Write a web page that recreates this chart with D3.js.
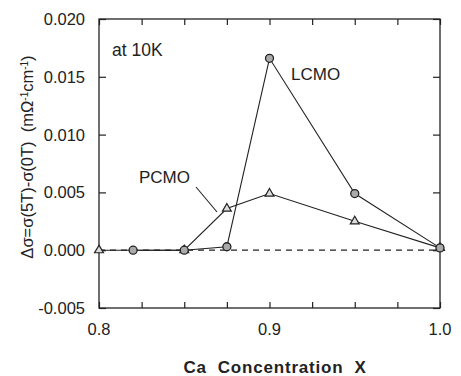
<!DOCTYPE html>
<html>
<head>
<meta charset="utf-8">
<script src="https://cdn.jsdelivr.net/npm/d3@7"></script>
<style>
  body { margin: 0; background: #fff; }
  text { font-family: Arial, "Liberation Sans", sans-serif; fill: #222; }
</style>
</head>
<body>
<div class="canvas"></div>
<script>
// data
const lcmoX = [0.82, 0.85, 0.875, 0.9, 0.95, 1.0]
const lcmoY = [0.0, 0.0, 0.0003, 0.0166, 0.0049, 0.0002]
const pcmoX = [0.8, 0.85, 0.875, 0.9, 0.95, 1.0]
const pcmoY = [0.0, 0.0, 0.0036, 0.0049, 0.0025, 0.0002]
const xTicks = [0.8, 0.9, 1.0]
const yTicks = [-0.005, 0.0, 0.005, 0.01, 0.015, 0.02]

const dims = { width: 461, height: 376 }
const margin = { top: 19, right: 21, bottom: 68, left: 99 }
const w = dims.width - margin.left - margin.right
const h = dims.height - margin.top - margin.bottom

const svg = d3.select('.canvas')
  .append('svg')
  .attr('width', dims.width)
  .attr('height', dims.height)

const graph = svg.append('g')
  .attr('transform', `translate(${margin.left}, ${margin.top})`)

const x = d3.scaleLinear().domain([0.8, 1.0]).range([0, w])
const y = d3.scaleLinear().domain([-0.005, 0.02]).range([h, 0])

const ink = '#222'

// frame
graph.append('rect')
  .attr('width', w).attr('height', h)
  .attr('fill', 'none').attr('stroke', ink).attr('stroke-width', 1.3)

// inward ticks on all four sides
const minorX = d3.range(0.8, 1.0001, 0.025)
const addAxis = (axis, transform) => {
  const g = graph.append('g').attr('transform', transform).call(axis)
  g.select('.domain').remove()
  g.selectAll('line').attr('stroke', ink).attr('stroke-width', 1.2)
  return g
}
addAxis(d3.axisBottom(x).tickValues(minorX).tickSize(-6).tickFormat(''), `translate(0, ${h})`)
addAxis(d3.axisTop(x).tickValues(minorX).tickSize(-6).tickFormat(''), 'translate(0, 0)')
addAxis(d3.axisRight(y).tickValues(yTicks).tickSize(-7).tickFormat(''), `translate(${w}, 0)`)
addAxis(d3.axisLeft(y).tickValues(yTicks).tickSize(-7).tickFormat(''), 'translate(0, 0)')

// tick labels (plain hyphen for the minus sign, as in the scan)
const fmtY = d => d3.format('.3f')(d).replace('−', '-')

graph.selectAll('.ylab')
  .data(yTicks)
  .enter().append('text')
    .attr('x', -14)
    .attr('y', d => y(d) + 6)
    .attr('text-anchor', 'end')
    .attr('font-size', 16.5)
    .text(fmtY)

graph.selectAll('.xlab')
  .data(xTicks)
  .enter().append('text')
    .attr('x', d => x(d))
    .attr('y', h + 27)
    .attr('text-anchor', 'middle')
    .attr('font-size', 16.5)
    .text(d3.format('.1f'))

// zero reference line
graph.append('line')
  .attr('x1', x(0.8)).attr('x2', x(1.0))
  .attr('y1', y(0)).attr('y2', y(0))
  .attr('stroke', ink).attr('stroke-width', 1.2)
  .attr('stroke-dasharray', '6,5')

const line = d3.line().x(d => x(d[0])).y(d => y(d[1]))
const lcmo = d3.zip(lcmoX, lcmoY)
const pcmo = d3.zip(pcmoX, pcmoY)

graph.append('path').attr('d', line(pcmo))
  .attr('fill', 'none').attr('stroke', ink).attr('stroke-width', 1.1)
graph.append('path').attr('d', line(lcmo))
  .attr('fill', 'none').attr('stroke', ink).attr('stroke-width', 1.1)

// markers
graph.selectAll('.tri')
  .data(pcmo)
  .enter().append('path')
    .attr('transform', d => `translate(${x(d[0])}, ${y(d[1])})`)
    .attr('d', d3.symbol(d3.symbolTriangle, 34))
    .attr('fill', '#ddd').attr('stroke', ink).attr('stroke-width', 1.2)

graph.selectAll('.circ')
  .data(lcmo)
  .enter().append('circle')
    .attr('cx', d => x(d[0])).attr('cy', d => y(d[1]))
    .attr('r', 4)
    .attr('fill', '#aaa').attr('stroke', ink).attr('stroke-width', 1.3)

// annotations
graph.append('text').attr('x', 13).attr('y', 37)
  .attr('font-size', 17.5).text('at 10K')
graph.append('text').attr('x', 192).attr('y', 61)
  .attr('font-size', 17).text('LCMO')
graph.append('text').attr('x', 40).attr('y', 164)
  .attr('font-size', 17).text('PCMO')
graph.append('line')
  .attr('x1', 97).attr('y1', 168).attr('x2', 118).attr('y2', 193)
  .attr('stroke', ink).attr('stroke-width', 1.1)

// axis titles
svg.append('text')
  .attr('x', 275).attr('y', 373)
  .attr('text-anchor', 'middle')
  .attr('font-size', 17).attr('font-weight', 'bold')
  .attr('letter-spacing', 0.8)
  .style('white-space', 'pre')
  .text('Ca  Concentration  X')

const ylab = svg.append('text')
  .attr('transform', 'translate(33, 157) rotate(-90)')
  .attr('text-anchor', 'middle')
  .attr('font-size', 16.5)
  .style('white-space', 'pre')
ylab.append('tspan').text('Δσ=σ(5T)-σ(0T)  (mΩ')
ylab.append('tspan').attr('baseline-shift', 'super').attr('font-size', 10).text('-1')
ylab.append('tspan').text('cm')
ylab.append('tspan').attr('baseline-shift', 'super').attr('font-size', 10).text('-1')
ylab.append('tspan').text(')')
</script>
</body>
</html>
